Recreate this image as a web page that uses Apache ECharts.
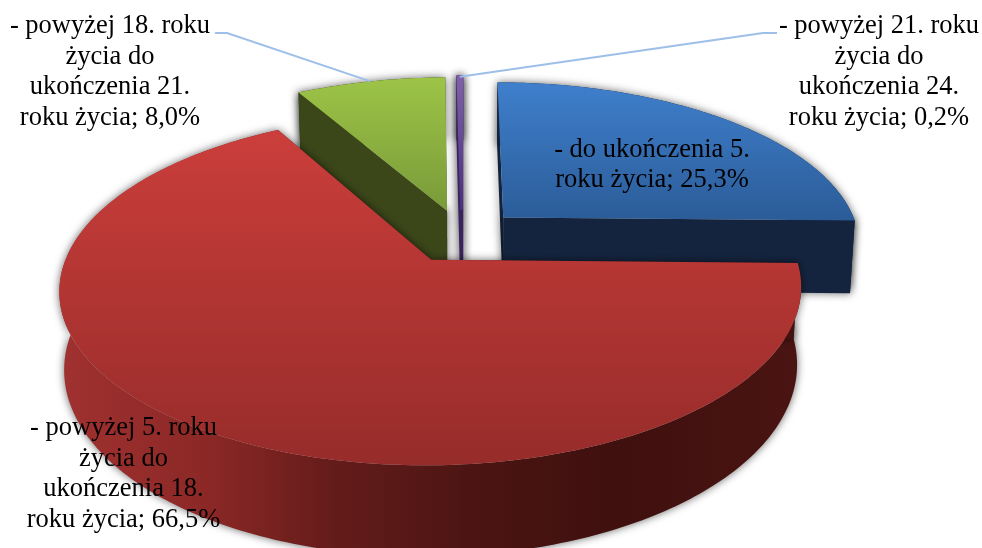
<!DOCTYPE html>
<html>
<head>
<meta charset="utf-8">
<script src="https://cdn.jsdelivr.net/npm/echarts@6/dist/echarts.min.js"></script>
<style>html,body{margin:0;padding:0;background:#fff}#c1{width:982px;height:548px}</style>
</head>
<body>
<div id="c1"></div>
<script>
var categories = ['- do ukończenia 5.\nroku życia', '- powyżej 5. roku\nżycia do\nukończenia 18.\nroku życia', '- powyżej 18. roku\nżycia do\nukończenia 21.\nroku życia', '- powyżej 21. roku\nżycia do\nukończenia 24.\nroku życia']
var values = [25.3, 66.5, 8.0, 0.2]
var drawOrder = [0, 2, 3, 1]

// kolory plastrow
var topColors = [['#3f7fcc', '#2b5c98'], ['#cb3e3b', '#962c2a'], ['#9dc447', '#799a39'], ['#8060ab', '#4a2f7c']]
var sideColors = ['#14243e', '#431210', '#3b4719', '#38235c']
var labelPos = [[652, 165], [123.5, 474], [110, 72], [879, 72]]
var leaderKnee = [null, null, [227, 33], [763, 33]]
var leaderEnd = [null, null, [215, 33], [777, 33]]

// rzut perspektywiczny
var cx = 462, cy = 236, R = 357, A = 163, k = 0.165, D = 74, explode = 0.165

var total = 0
values.forEach(function (v) { total += v })
var starts = [], sum = 0
values.forEach(function (v) { starts.push(sum / total * Math.PI * 2); sum += v })

function proj(u, v, h) {
	var s = 1 / (1 + k * v)
	return [cx + R * u * s * (1 - 0.012 * h), cy - A * v * s + D * h * s]
}
function offset(i) {
	var mid = starts[i] + values[i] / total * Math.PI
	return [explode * Math.sin(mid), explode * Math.cos(mid)]
}
function rimPoint(i, a, h) {
	var o = offset(i)
	return proj(o[0] + Math.sin(a), o[1] + Math.cos(a), h)
}
function fmt(v) { return v.toFixed(1).replace('.', ',') + '%' }

function renderSlice(params, api) {
	var i = api.value(1)
	var a0 = starts[i], a1 = a0 + api.value(0) / total * Math.PI * 2
	var o = offset(i)
	var rimTop = [], rimBottom = []
	var n = Math.max(2, Math.ceil((a1 - a0) * 60))
	for (var j = 0; j <= n; j++) {
		var a = a0 + (a1 - a0) * j / n
		rimTop.push(rimPoint(i, a, 0))
		rimBottom.push(rimPoint(i, a, 1))
	}
	var apex = proj(o[0], o[1], 0), apexB = proj(o[0], o[1], 1)
	var shadow = { shadowBlur: 8, shadowColor: 'rgba(0,0,0,0.6)' }
	// najcienszy plaster inaczej prawie znika
	if (i == 3) { shadow.stroke = sideColors[3]; shadow.lineWidth = 3 }
	var side = function (pts, fill) {
		return { type: 'polygon', shape: { points: pts }, style: Object.assign({ fill: fill }, shadow) }
	}
	var wallFill = sideColors[i]
	if (i == 1) {
		wallFill = new echarts.graphic.LinearGradient(60, 0, 800, 0, [
			{ offset: 0, color: '#a03130' }, { offset: 0.2, color: '#8b2826' },
			{ offset: 0.37, color: '#641c1a' }, { offset: 0.55, color: '#4c1513' },
			{ offset: 0.75, color: '#3f100e' }, { offset: 1, color: '#4a1412' }], true)
	}
	var ys = rimTop.map(function (p) { return p[1] }).concat([apex[1]])
	var yMin = Math.min.apply(null, ys), yMax = Math.max.apply(null, ys)
	var topFill = new echarts.graphic.LinearGradient(0, yMin, 0, yMax, [
		{ offset: 0, color: topColors[i][0] }, { offset: 1, color: topColors[i][1] }], true)
	var endFace = side([apex, rimTop[n], rimBottom[n], apexB], sideColors[i])
	var startFace = side([apex, rimTop[0], rimBottom[0], apexB], sideColors[i])
	var topStyle = { fill: topFill }
	if (i == 3) { topStyle.stroke = topFill; topStyle.lineWidth = 3 }
	return {
		type: 'group',
		children: [
			side(rimTop.concat(rimBottom.slice().reverse()), wallFill),
			i == 0 ? startFace : endFace,
			i == 0 ? endFace : startFace,
			{ type: 'polygon', shape: { points: [apex].concat(rimTop) }, style: topStyle }
		]
	}
}

function renderLabel(params, api) {
	var i = api.value(1)
	var children = [{
		type: 'text',
		style: {
			text: categories[i] + '; ' + fmt(api.value(0)),
			x: labelPos[i][0], y: labelPos[i][1],
			fill: '#000', font: '26.5px "Liberation Serif"',
			align: 'center', verticalAlign: 'middle', lineHeight: 30.5
		}
	}]
	if (leaderEnd[i]) {
		var mid = starts[i] + values[i] / total * Math.PI
		children.unshift({
			type: 'polyline',
			shape: { points: [leaderEnd[i], leaderKnee[i], rimPoint(i, mid, 0)] },
			style: { stroke: '#9dbfe8', lineWidth: 2, fill: null }
		})
	}
	return { type: 'group', children: children }
}

var seriesData = drawOrder.map(function (i) { return [values[i], i] })

var myChart = echarts.init(document.getElementById('c1'))
myChart.setOption({
	backgroundColor: '#fff',
	animation: false,
	series: [
		{ type: 'custom', coordinateSystem: 'none', renderItem: renderSlice, data: seriesData, silent: true, z: 2 },
		{ type: 'custom', coordinateSystem: 'none', renderItem: renderLabel, data: seriesData, silent: true, z: 3 }
	]
})
</script>
</body>
</html>
